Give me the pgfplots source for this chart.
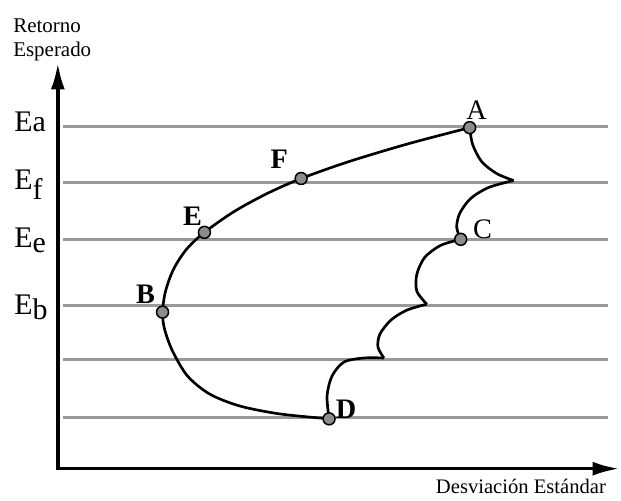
\documentclass[border=0pt]{standalone}
\usepackage{pgfplots}
\pgfplotsset{compat=1.18}
\usepackage{fontspec}
\setmainfont{Liberation Serif}
\usetikzlibrary{arrows.meta}
\begin{document}
\begin{tikzpicture}
\begin{axis}[scale only axis, width=372.6pt, height=301.2pt,
  xmin=0, xmax=621, ymin=0, ymax=502, hide axis, clip=false]
\path (axis cs:0,0) rectangle (axis cs:621,502);
% horizontal reference lines
\addplot[black!40, line width=1.8pt] coordinates {(63,375)(610,375)};
\addplot[black!40, line width=1.8pt] coordinates {(63,319)(610,319)};
\addplot[black!40, line width=1.8pt] coordinates {(63,262)(610,262)};
\addplot[black!40, line width=1.8pt] coordinates {(63,196)(610,196)};
\addplot[black!40, line width=1.8pt] coordinates {(63,141)(610,141)};
\addplot[black!40, line width=1.8pt] coordinates {(63,83)(610,83)};
% axes
\addplot[black, line width=2.1pt, {Latex[length=16pt,width=8.4pt]}-{Latex[length=16pt,width=8.4pt]}] coordinates {(58,439)(58,32)(621,32)};
% left frontier
\addplot[black, line width=1.6pt, smooth] coordinates {(330,82)(280,87)(240,95)(210,107)(188,125)(173,150)(165,172)(163,189)(166,210)(174,232)(187,252)(205,269)(235,290)(268,308)(302,323)(350,340)(410,358)(471,374)};
% right boundary arcs
\addplot[black, line width=1.6pt, smooth] coordinates {(471,374)(474,357)(483,340)(498,328)(515,321)};
\addplot[black, line width=1.6pt, smooth] coordinates {(515,321)(490,314)(472,303)(461,288)(458,274)(462,262)};
\addplot[black, line width=1.6pt, smooth] coordinates {(462,262)(442,256)(426,244)(418,227)(418,210)(428,197)};
\addplot[black, line width=1.6pt, smooth] coordinates {(428,197)(408,191)(392,181)(381,167)(379,154)(385,143)};
\addplot[black, line width=1.6pt, smooth] coordinates {(385,143)(365,143)(345,139)(333,125)(328,105)(330,82)};
% points
\addplot[only marks, mark=*, mark size=3.6pt, mark options={fill=black!45, draw=black, line width=0.9pt}] coordinates {(471,374)(302,323)(205,269)(163,189)(462,262)(330,82)};
% point labels
\node[font=\fontsize{17pt}{20pt}\selectfont] at (axis cs:478,392) {A};
\node[font=\fontsize{17pt}{20pt}\selectfont\bfseries] at (axis cs:280,342) {F};
\node[font=\fontsize{17pt}{20pt}\selectfont\bfseries] at (axis cs:193,285) {E};
\node[font=\fontsize{17pt}{20pt}\selectfont\bfseries] at (axis cs:146,207) {B};
\node[font=\fontsize{17pt}{20pt}\selectfont] at (axis cs:484,272) {C};
\node[font=\fontsize{17pt}{20pt}\selectfont\bfseries] at (axis cs:347,92) {D};
% level labels
\node[anchor=base west, inner sep=0pt, font=\fontsize{18pt}{21pt}\selectfont] at (axis cs:14,370) {Ea};
\node[anchor=base west, inner sep=0pt, font=\fontsize{18pt}{21pt}\selectfont] at (axis cs:14,312) {E\raisebox{-6pt}{f}};
\node[anchor=base west, inner sep=0pt, font=\fontsize{18pt}{21pt}\selectfont] at (axis cs:14,254) {E\raisebox{-3pt}{e}};
\node[anchor=base west, inner sep=0pt, font=\fontsize{18pt}{21pt}\selectfont] at (axis cs:14,187) {E\raisebox{-3pt}{b}};
% axis titles
\node[anchor=base west, inner sep=0pt, font=\fontsize{12.6pt}{14.4pt}\selectfont] at (axis cs:13,469) {Retorno};
\node[anchor=base west, inner sep=0pt, font=\fontsize{12.6pt}{14.4pt}\selectfont] at (axis cs:13,445) {Esperado};
\node[anchor=base east, inner sep=0pt, font=\fontsize{12.4pt}{14.4pt}\selectfont] at (axis cs:608,7) {Desviación Estándar};
\end{axis}
\end{tikzpicture}
\end{document}
